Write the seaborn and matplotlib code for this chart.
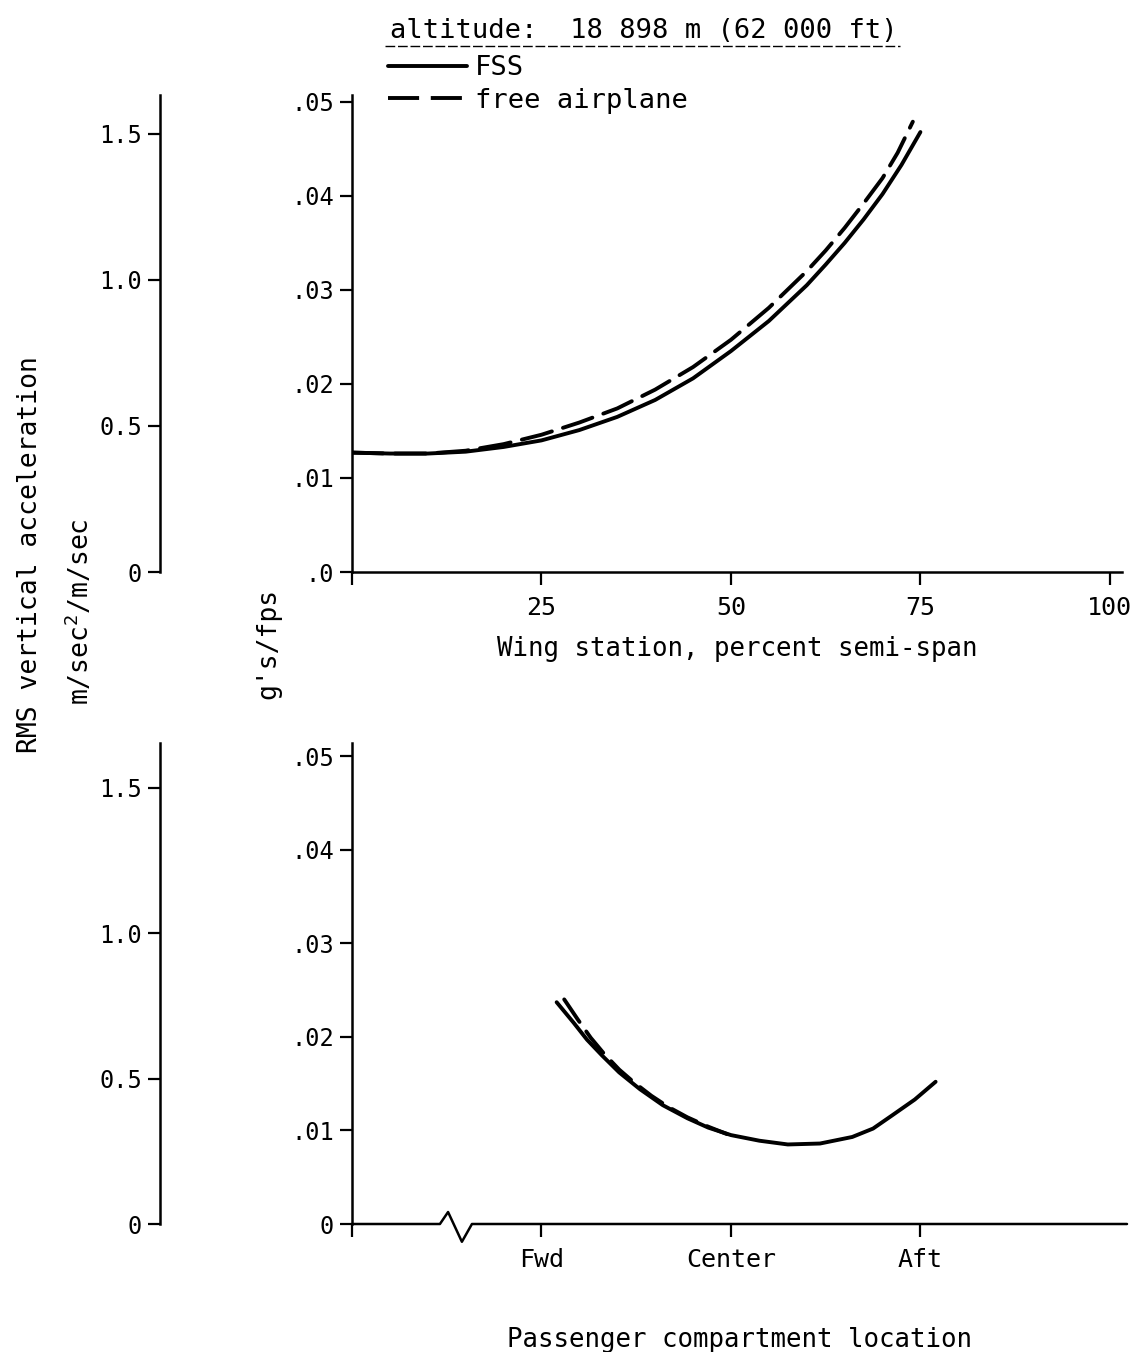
import numpy as np
import pandas as pd
import matplotlib
matplotlib.use("Agg")
import matplotlib.pyplot as plt
from matplotlib.lines import Line2D
import seaborn as sns

# ---------------- data ----------------
wing_station_fss = [0, 5, 10, 15, 20, 25, 30, 35, 40, 45, 50, 55, 60, 62.5, 65,
                    67.5, 70, 72.5, 75]
fss_wing = [0.0127, 0.0126, 0.0126, 0.0128, 0.0133, 0.0140, 0.0151, 0.0165,
            0.0183, 0.0206, 0.0235, 0.0267, 0.0305, 0.0327, 0.0350, 0.0375,
            0.0402, 0.0433, 0.0468]
wing_station_free = [0, 5, 10, 15, 20, 25, 30, 35, 40, 45, 50, 55, 60, 62.5, 65,
                     67.5, 70, 72, 74]
free_wing = [0.0127, 0.0126, 0.0126, 0.0129, 0.0136, 0.0146, 0.0159, 0.0174,
             0.0194, 0.0218, 0.0247, 0.0281, 0.0320, 0.0342, 0.0366, 0.0392,
             0.0419, 0.0446, 0.0479]

compartment_pos_fss = [1.08, 1.17, 1.24, 1.32, 1.41, 1.52, 1.64, 1.77, 1.88, 2.00,
                       2.15, 2.30, 2.47, 2.64, 2.75, 2.85, 2.97, 3.08]
fss_comp = [0.0237, 0.0215, 0.0197, 0.0180, 0.0162, 0.0144, 0.0127, 0.0113,
            0.0103, 0.0095, 0.0089, 0.0085, 0.0086, 0.0093, 0.0102, 0.0116,
            0.0133, 0.0152]
compartment_pos_free = [1.12, 1.19, 1.26, 1.33, 1.41, 1.49, 1.58, 1.67, 1.77, 1.88, 1.98]
free_comp = [0.0240, 0.0219, 0.0199, 0.0182, 0.0165, 0.0151, 0.0137, 0.0125,
             0.0114, 0.0104, 0.0096]

wing_ticks = [0, 25, 50, 75, 100]
wing_tick_labels = ["", "25", "50", "75", "100"]
comp_ticks = [0, 1, 2, 3]
comp_tick_labels = ["", "Fwd", "Center", "Aft"]
g_ticks = [0, 0.01, 0.02, 0.03, 0.04, 0.05]
g_labels_top = [".0", ".01", ".02", ".03", ".04", ".05"]
g_labels_bot = ["0", ".01", ".02", ".03", ".04", ".05"]
si_ticks = [0, 0.5, 1.0, 1.5]
si_labels = ["0", "0.5", "1.0", "1.5"]

G_PER_FPS_TO_SI = 9.80665 / 0.3048

# ---------------- style ----------------
sns.set_style("ticks")
FONT = ["DejaVu Sans Mono", "DejaVu Sans"]
plt.rcParams["font.family"] = FONT
plt.rcParams["mathtext.default"] = "regular"
plt.rcParams["axes.linewidth"] = 1.8
for k in ("text.color", "axes.labelcolor", "xtick.color", "ytick.color",
          "axes.edgecolor"):
    plt.rcParams[k] = "black"

W, H = 1145, 1352
fig = plt.figure(figsize=(W / 100, H / 100), dpi=100)

def fx(px):
    return px / W

def fy(py):
    return 1 - py / H

ax1 = fig.add_axes([fx(352), fy(572), fx(1122) - fx(352), fy(95) - fy(572)])
ax2 = fig.add_axes([fx(352), fy(1224), fx(1127) - fx(352), fy(743) - fy(1224)])

LW = 2.8
DASH = (8, 3)

wing_fss_df = pd.DataFrame({"x": wing_station_fss, "y": fss_wing})
wing_free_df = pd.DataFrame({"x": wing_station_free, "y": free_wing})
comp_fss_df = pd.DataFrame({"x": compartment_pos_fss, "y": fss_comp})
comp_free_df = pd.DataFrame({"x": compartment_pos_free, "y": free_comp})

sns.lineplot(data=wing_fss_df, x="x", y="y", ax=ax1, color="black", lw=LW,
             sort=False, estimator=None, solid_capstyle="round",
             solid_joinstyle="round")
sns.lineplot(data=wing_free_df, x="x", y="y", ax=ax1, color="black", lw=LW,
             sort=False, estimator=None, dash_capstyle="round",
             dash_joinstyle="round")
ax1.lines[-1].set_dashes(DASH)

sns.lineplot(data=comp_fss_df, x="x", y="y", ax=ax2, color="black", lw=LW,
             sort=False, estimator=None, solid_capstyle="round",
             solid_joinstyle="round")
sns.lineplot(data=comp_free_df, x="x", y="y", ax=ax2, color="black", lw=LW,
             sort=False, estimator=None, dash_capstyle="round",
             dash_joinstyle="round")
ax2.lines[-1].set_dashes((7, 3))

# ---------------- axes setup ----------------
ax1.set_xlim(0, 101.6)
ax1.set_ylim(0, 0.05074)
ax2.set_xlim(0, 4.09)
ax2.set_ylim(0, 0.0514)

for ax in (ax1, ax2):
    ax.spines["top"].set_visible(False)
    ax.spines["right"].set_visible(False)
    ax.set_yticks(g_ticks)
    ax.tick_params(axis="both", direction="out", length=9, width=1.6,
                   labelsize=17, colors="black")
    ax.tick_params(axis="y", pad=4)
    ax.set_ylabel("")

ax1.set_yticklabels(g_labels_top)
ax2.set_yticklabels(g_labels_bot)
ax1.set_xticks(wing_ticks)
ax1.set_xticklabels(wing_tick_labels)
ax2.set_xticks(comp_ticks)
ax2.set_xticklabels(comp_tick_labels)
ax1.tick_params(axis="x", labelsize=18, pad=8)
ax2.tick_params(axis="x", labelsize=18, pad=8)

ax1.set_xlabel("Wing station, percent semi-span", fontsize=18.5, labelpad=12)
ax2.set_xlabel("Passenger compartment location", fontsize=18.5, labelpad=40)

# broken x-axis line on the lower panel
ax2.spines["bottom"].set_visible(False)
brk_x = [0, 0.464, 0.507, 0.580, 0.633, 4.09]
brk_y = [0, 0, 0.00128, -0.0019, 0, 0]
ax2.plot(brk_x, brk_y, color="black", lw=1.8, clip_on=False, zorder=5)

# secondary SI axes on the left
for ax, loc in ((ax1, (160 - 352) / 770), (ax2, (160 - 352) / 775)):
    sec = ax.secondary_yaxis(loc, functions=(lambda y: y * G_PER_FPS_TO_SI,
                                             lambda y: y / G_PER_FPS_TO_SI))
    sec.set_yticks(si_ticks)
    sec.set_yticklabels(si_labels)
    sec.tick_params(direction="out", length=9, width=1.6, labelsize=17, pad=4,
                    colors="black")
    sec.spines["left"].set_linewidth(1.8)

# ---------------- texts ----------------
fig.text(fx(30), fy(555), "RMS vertical acceleration", rotation=90,
         ha="center", va="center", fontsize=19)
fig.text(fx(80), fy(612), "m/sec$^2$/m/sec", rotation=90,
         ha="center", va="center", fontsize=19)
fig.text(fx(268), fy(643), "g's/fps", rotation=90,
         ha="center", va="center", fontsize=19)

fig.text(fx(390), fy(31), "altitude:  18 898 m (62 000 ft)",
         ha="left", va="center", fontsize=19.5)
fig.add_artist(Line2D([fx(385), fx(900)], [fy(46), fy(46)], color="black",
                      lw=1.0, linestyle=(0, (7, 2))))

handles = [Line2D([], [], color="black", lw=LW),
           Line2D([], [], color="black", lw=LW, dashes=DASH)]
fig.legend(handles, ["FSS", "free airplane"], loc="upper left",
           bbox_to_anchor=(fx(388), fy(55)), frameon=False, fontsize=19.5,
           handlelength=2.9, handletextpad=0.3, labelspacing=0.25,
           borderpad=0, borderaxespad=0)

fig.savefig("out.png", dpi=100)
